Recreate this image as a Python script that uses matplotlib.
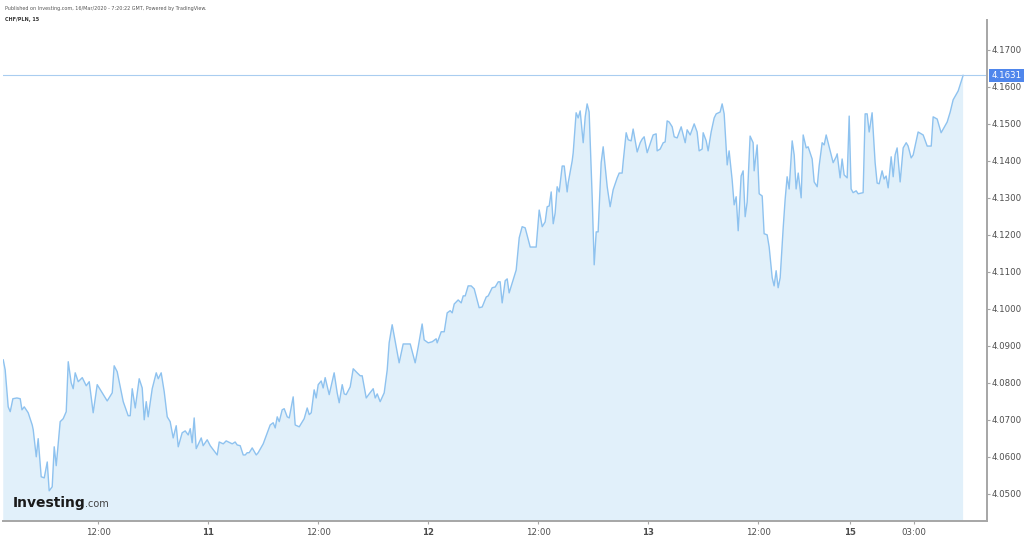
import numpy as np
import matplotlib
matplotlib.use("Agg")
import matplotlib.pyplot as plt

# CHF/PLN 15-min, hours counted from 10 Mar 00:00 (weekend gap removed)
hours = [1.64, 1.85, 2.18, 2.40, 2.69, 3.13, 3.49, 3.68, 3.93, 4.36, 4.80, 4.91, 5.24, 5.45, 5.78,
         6.11, 6.44, 6.65, 6.98, 7.20, 7.42, 7.85, 8.18, 8.51, 8.73, 9.05, 9.27, 9.49, 9.82, 10.26,
         10.69, 11.02, 11.45, 11.89, 12.44, 12.98, 13.53, 13.74, 14.07, 14.73, 15.27, 15.49, 15.71,
         16.04, 16.47, 16.80, 17.02, 17.24, 17.45, 17.89, 18.33, 18.55, 18.87, 19.20, 19.53, 19.85,
         20.18, 20.51, 20.73, 21.16, 21.49, 21.82, 22.04, 22.25, 22.47, 22.69, 23.24, 23.45, 23.89,
         24.22, 24.98, 25.20, 25.64, 25.96, 26.62, 26.94, 27.16, 27.49, 27.82, 28.04, 28.25, 28.47,
         28.80, 29.24, 29.45, 30.00, 30.76, 31.09, 31.31, 31.53, 31.75, 32.07, 32.29, 32.62, 32.84,
         33.27, 33.49, 33.93, 34.47, 34.80, 35.02, 35.24, 35.56, 35.78, 36.00, 36.33, 36.54, 36.76,
         37.20, 37.74, 38.07, 38.29, 38.62, 38.84, 39.05, 39.49, 39.82, 40.25, 40.58, 40.80, 41.24,
         41.56, 42.00, 42.22, 42.44, 42.76, 43.20, 43.53, 43.74, 44.07, 44.29, 44.83, 45.27, 46.04,
         46.58, 46.91, 47.34, 47.56, 48.00, 48.44, 48.87, 48.98, 49.42, 49.75, 50.07, 50.40, 50.62,
         50.84, 51.27, 51.60, 51.82, 52.04, 52.36, 52.69, 53.02, 53.56, 53.89, 54.33, 54.55, 54.98,
         55.31, 55.64, 55.85, 56.07, 56.40, 56.62, 56.83, 57.27, 57.60, 57.93, 58.25, 58.58, 59.13,
         59.78, 60.11, 60.44, 60.76, 60.98, 61.20, 61.42, 61.64, 61.85, 62.07, 62.29, 62.62, 62.84,
         63.16, 63.27, 63.71, 63.82, 64.14, 64.36, 64.58, 64.91, 65.13, 65.34, 65.56, 65.89, 66.11,
         66.33, 66.54, 66.87, 67.09, 67.53, 67.85, 68.18, 68.62, 68.84, 69.16, 69.27, 69.60, 69.82,
         70.14, 70.36, 70.80, 71.13, 71.35, 71.56, 71.89, 72.11, 72.54, 72.87, 72.98, 73.31, 73.64,
         73.85, 74.07, 74.29, 74.62, 74.84, 75.16, 75.60, 76.04, 76.25, 76.58, 77.02, 77.34, 77.56,
         77.89, 78.00, 78.33, 78.54, 78.87, 79.20, 79.42, 79.85, 80.07, 80.29, 80.62, 80.83, 81.16,
         81.38, 81.60, 81.82, 82.14, 82.36, 82.58, 82.80, 83.12, 83.45, 83.56, 83.89, 84.11, 84.44,
         84.65, 84.98, 85.20, 85.53, 85.74, 85.96, 86.18, 86.40, 86.73, 86.94, 87.16, 87.38, 87.71,
         87.93, 88.14, 88.37, 88.69, 88.91, 89.24, 89.45, 89.89, 90.11, 90.44, 90.65, 90.98, 91.20,
         91.42, 91.85, 92.18, 92.51, 92.62, 92.94, 93.16, 93.38, 93.71, 93.93, 94.14, 94.36, 94.69,
         94.91, 95.45, 95.67, 95.89, 96.11, 96.43, 96.76, 96.98, 97.20, 97.52, 97.74, 97.96, 98.18,
         98.51, 98.73, 98.94, 99.16, 99.49, 99.82, 100.15, 100.36, 100.69, 100.91, 101.45, 102.00,
         102.44, 102.88, 103.09, 103.53, 103.96, 104.62, 104.95, 105.27, 105.82, 106.36]

price = [4.0862, 4.0835, 4.0735, 4.0722, 4.0757, 4.0759, 4.0757, 4.0727, 4.0735, 4.0719, 4.0686,
         4.0673, 4.0600, 4.0649, 4.0546, 4.0543, 4.0586, 4.0508, 4.0519, 4.0627, 4.0576, 4.0695,
         4.0703, 4.0722, 4.0857, 4.0800, 4.0784, 4.0827, 4.0803, 4.0814, 4.0792, 4.0803, 4.0719,
         4.0795, 4.0773, 4.0751, 4.0773, 4.0846, 4.0830, 4.0749, 4.0711, 4.0711, 4.0784, 4.0732,
         4.0811, 4.0786, 4.0700, 4.0749, 4.0708, 4.0784, 4.0827, 4.0811, 4.0827, 4.0776, 4.0708,
         4.0695, 4.0651, 4.0684, 4.0627, 4.0665, 4.0670, 4.0659, 4.0676, 4.0638, 4.0705, 4.0622,
         4.0651, 4.0630, 4.0646, 4.0630, 4.0605, 4.0640, 4.0635, 4.0643, 4.0635, 4.0640, 4.0632,
         4.0630, 4.0605, 4.0605, 4.0611, 4.0611, 4.0624, 4.0605, 4.0611, 4.0635, 4.0686, 4.0692,
         4.0678, 4.0708, 4.0695, 4.0727, 4.0730, 4.0708, 4.0705, 4.0762, 4.0686, 4.0681, 4.0703,
         4.0732, 4.0714, 4.0719, 4.0781, 4.0759, 4.0795, 4.0805, 4.0786, 4.0814, 4.0768, 4.0827,
         4.0773, 4.0746, 4.0795, 4.0770, 4.0768, 4.0789, 4.0838, 4.0827, 4.0819, 4.0819, 4.0759,
         4.0770, 4.0784, 4.0759, 4.0770, 4.0749, 4.0773, 4.0835, 4.0908, 4.0957, 4.0927, 4.0854,
         4.0905, 4.0905, 4.0854, 4.0897, 4.0959, 4.0916, 4.0908, 4.0911, 4.0919, 4.0908, 4.0938,
         4.0938, 4.0989, 4.0995, 4.0989, 4.1013, 4.1024, 4.1016, 4.1035, 4.1035, 4.1062, 4.1062,
         4.1054, 4.1003, 4.1005, 4.1032, 4.1035, 4.1057, 4.1059, 4.1073, 4.1073, 4.1016, 4.1076,
         4.1081, 4.1043, 4.1078, 4.1105, 4.1192, 4.1222, 4.1219, 4.1167, 4.1167, 4.1267, 4.1222,
         4.1235, 4.1276, 4.1278, 4.1316, 4.1230, 4.1259, 4.1330, 4.1316, 4.1386, 4.1386, 4.1316,
         4.1340, 4.1400, 4.1422, 4.1530, 4.1516, 4.1535, 4.1449, 4.1519, 4.1554, 4.1532, 4.1303,
         4.1119, 4.1208, 4.1208, 4.1395, 4.1438, 4.1330, 4.1276, 4.1322, 4.1354, 4.1367, 4.1367,
         4.1397, 4.1476, 4.1457, 4.1454, 4.1486, 4.1424, 4.1449, 4.1459, 4.1465, 4.1422, 4.1438,
         4.1470, 4.1473, 4.1427, 4.1432, 4.1449, 4.1451, 4.1508, 4.1505, 4.1492, 4.1465, 4.1462,
         4.1492, 4.1449, 4.1484, 4.1470, 4.1500, 4.1478, 4.1427, 4.1432, 4.1476, 4.1454, 4.1427,
         4.1478, 4.1516, 4.1527, 4.1532, 4.1554, 4.1527, 4.1389, 4.1427, 4.1349, 4.1281, 4.1303,
         4.1211, 4.1359, 4.1373, 4.1249, 4.1289, 4.1467, 4.1449, 4.1373, 4.1443, 4.1311, 4.1305,
         4.1203, 4.1200, 4.1167, 4.1084, 4.1062, 4.1103, 4.1057, 4.1084, 4.1219, 4.1295, 4.1357,
         4.1324, 4.1454, 4.1416, 4.1324, 4.1367, 4.1300, 4.1470, 4.1435, 4.1438, 4.1405, 4.1343,
         4.1330, 4.1386, 4.1449, 4.1443, 4.1470, 4.1427, 4.1395, 4.1411, 4.1419, 4.1354, 4.1405,
         4.1362, 4.1354, 4.1521, 4.1324, 4.1314, 4.1319, 4.1311, 4.1314, 4.1527, 4.1527, 4.1478,
         4.1530, 4.1395, 4.1340, 4.1338, 4.1373, 4.1351, 4.1359, 4.1327, 4.1411, 4.1357, 4.1416,
         4.1435, 4.1343, 4.1435, 4.1449, 4.1440, 4.1408, 4.1416, 4.1478, 4.1470, 4.1440, 4.1440,
         4.1519, 4.1513, 4.1476, 4.1505, 4.1532, 4.1565, 4.1589, 4.1631]

tick_pos = [12, 24, 36, 48, 60, 72, 84, 94, 101]
tick_labels = ["12:00", "11", "12:00", "12", "12:00", "13", "12:00", "15", "03:00"]
day_labels = ["11", "12", "13", "15"]
y_ticks = [4.05, 4.06, 4.07, 4.08, 4.09, 4.10, 4.11, 4.12, 4.13, 4.14, 4.15, 4.16, 4.17]
last_price = 4.1631

line_col = "#8ec2ef"
fill_col = "#e1f0fa"
axis_col = "#a6a6a6"
text_col = "#4d4d4d"

fig = plt.figure(figsize=(10.24, 5.38), dpi=100)
ax = fig.add_axes([0.003, 0.032, 0.961, 0.931])

ax.fill_between(hours, price, 4.0, color=fill_col, lw=0)
ax.plot(hours, price, color=line_col, lw=1.0)
ax.axhline(last_price, color="#a9cdf0", lw=0.8)

ax.set_xlim(1.62, 108.98)
ax.set_ylim(4.0427, 4.1781)

for s in ["left", "top"]:
    ax.spines[s].set_visible(False)
for s in ["right", "bottom"]:
    ax.spines[s].set_color(axis_col)
    ax.spines[s].set_linewidth(1.4)

ax.yaxis.tick_right()
ax.set_yticks(y_ticks)
ax.set_yticklabels(["%.4f" % v for v in y_ticks])
ax.set_xticks(tick_pos)
ax.set_xticklabels(tick_labels)
for lbl in ax.get_xticklabels():
    if lbl.get_text() in day_labels:
        lbl.set_fontweight("bold")
ax.tick_params(axis="y", length=2, width=0.8, color=axis_col, labelsize=6.2, labelcolor=text_col, pad=1.5)
ax.tick_params(axis="x", length=2, width=0.8, color=axis_col, labelsize=6.2, labelcolor=text_col, pad=3)

# last price marker on the right scale
ax.annotate("%.4f" % last_price, xy=(1.0, last_price), xycoords=("axes fraction", "data"),
            xytext=(3, 0), textcoords="offset points", va="center", ha="left",
            fontsize=6.2, color="white",
            bbox=dict(boxstyle="square,pad=0.25", fc="#4f86ec", ec="none"))

# header
fig.text(0.005, 0.988, "Published on Investing.com, 16/Mar/2020 - 7:20:22 GMT, Powered by TradingView.",
         fontsize=3.5, color="#555555", va="top")
fig.text(0.005, 0.968, "CHF/PLN, 15", fontsize=3.5, color="#333333", fontweight="bold", va="top")

# logo
t = fig.text(0.012, 0.058, "Investing", fontsize=10, fontweight="bold", color="#1a1a1a", va="baseline")
fig.canvas.draw()
bb = t.get_window_extent().transformed(fig.transFigure.inverted())
fig.text(bb.x1, 0.058, ".com", fontsize=7, color="#444444", va="baseline")

fig.savefig("out.png", dpi=100)
